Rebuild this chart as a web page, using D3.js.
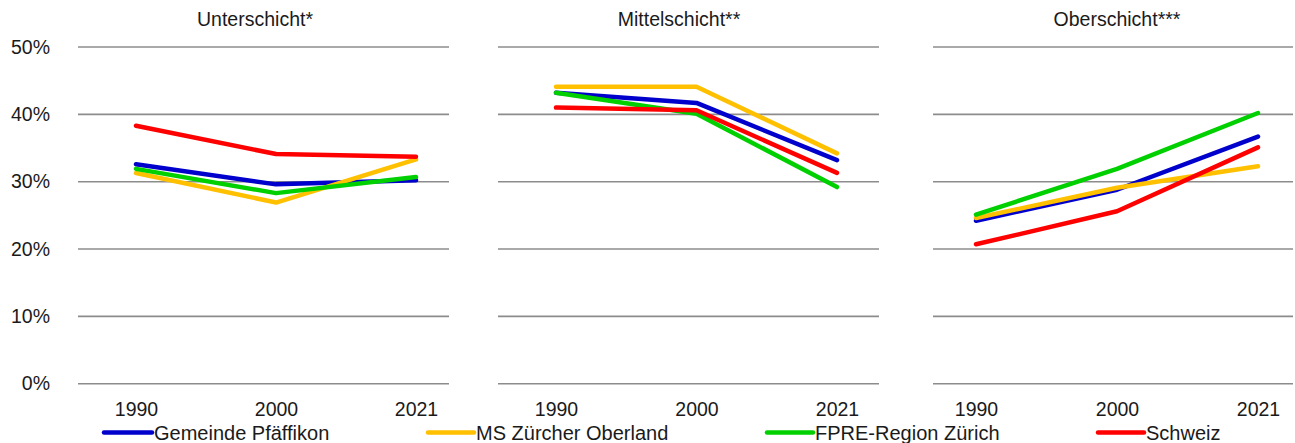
<!DOCTYPE html>
<html>
<head>
<meta charset="utf-8">
<script src="https://cdn.jsdelivr.net/npm/d3@7"></script>
<style>
  html, body { margin: 0; padding: 0; background: #fff; }
  svg { display: block; font-family: "Liberation Sans", Arial, sans-serif; }
</style>
</head>
<body>
<svg id="chart" width="1295" height="443"></svg>
<script>
// Categories and labels
const years = ["1990", "2000", "2021"];
const panelTitles = ["Unterschicht*", "Mittelschicht**", "Oberschicht***"];
const seriesNames = ["Gemeinde Pfäffikon", "MS Zürcher Oberland", "FPRE-Region Zürich", "Schweiz"];
const seriesColors = ["#0000CC", "#FFC000", "#00D000", "#FF0000"];
const yTicks = [0, 10, 20, 30, 40, 50];

// Shares in percent, one array per series, ordered panel by panel (1990, 2000, 2021)
const pfaeffikon   = [[32.6, 29.6, 30.2], [43.2, 41.7, 33.2], [24.2, 28.8, 36.7]];
const zuercherOberland = [[31.3, 26.9, 33.3], [44.1, 44.1, 34.2], [24.6, 29.1, 32.3]];
const regionZuerich = [[31.9, 28.3, 30.7], [43.2, 40.1, 29.2], [25.1, 31.9, 40.2]];
const schweiz      = [[38.3, 34.1, 33.7], [41.0, 40.6, 31.3], [20.7, 25.6, 35.1]];
const seriesValues = [pfaeffikon, zuercherOberland, regionZuerich, schweiz];

// Panel geometry
const panels = [
  { g0: 78,  g1: 449,  p0: 136, p1: 416,  titleX: 255 },
  { g0: 498, g1: 879,  p0: 556, p1: 837,  titleX: 679 },
  { g0: 933, g1: 1293, p0: 976, p1: 1258, titleX: 1117 }
];
const legendItems = [
  { x0: 104, x1: 152 },
  { x0: 428, x1: 474 },
  { x0: 767, x1: 813 },
  { x0: 1098, x1: 1144 }
];

const FONT = "Liberation Sans, Arial, sans-serif";
const svg = d3.select("#chart");
const y = d3.scaleLinear().domain([0, 50]).range([383.7, 47]);

// y-axis labels (shared, left of first panel)
svg.append("g")
  .attr("transform", "translate(50,0)")
  .call(d3.axisLeft(y).tickValues(yTicks).tickFormat(d => d + "%").tickSize(0).tickPadding(0))
  .call(g => g.select(".domain").remove())
  .call(g => g.selectAll("text")
    .attr("font-size", 19.5).attr("fill", "#1a1a1a")
    .attr("font-family", FONT));

panels.forEach((p, pi) => {
  const x = d3.scalePoint().domain(years).range([p.p0, p.p1]);
  const g = svg.append("g");

  // gridlines
  g.selectAll("line.grid").data(yTicks).join("line")
    .attr("class", "grid")
    .attr("x1", p.g0).attr("x2", p.g1)
    .attr("y1", d => y(d)).attr("y2", d => y(d))
    .attr("stroke", "#8c8c8c").attr("stroke-width", 1.6);

  // category axis labels
  g.append("g")
    .attr("transform", "translate(0,399)")
    .call(d3.axisBottom(x).tickSize(0).tickPadding(0))
    .call(a => a.select(".domain").remove())
    .call(a => a.selectAll("text")
      .attr("font-size", 19.5).attr("fill", "#1a1a1a").attr("dy", "0.85em")
      .attr("font-family", FONT));

  // panel title
  g.append("text")
    .attr("x", p.titleX).attr("y", 26)
    .attr("text-anchor", "middle")
    .attr("font-size", 19.5).attr("fill", "#1a1a1a")
    .text(panelTitles[pi]);

  // series lines
  const line = d3.line().x((d, i) => x(years[i])).y(d => y(d));
  seriesValues.forEach((vals, si) => {
    g.append("path")
      .datum(vals[pi])
      .attr("d", line)
      .attr("fill", "none")
      .attr("stroke", seriesColors[si])
      .attr("stroke-width", 4.5)
      .attr("stroke-linecap", "round")
      .attr("stroke-linejoin", "round");
  });
});

// legend
const legend = svg.append("g");
legendItems.forEach((it, i) => {
  legend.append("line")
    .attr("x1", it.x0).attr("x2", it.x1)
    .attr("y1", 432.5).attr("y2", 432.5)
    .attr("stroke", seriesColors[i]).attr("stroke-width", 4.5)
    .attr("stroke-linecap", "round");
  legend.append("text")
    .attr("x", it.x1 + 2).attr("y", 439.5)
    .attr("font-size", 20).attr("fill", "#1a1a1a")
    .text(seriesNames[i]);
});
</script>
</body>
</html>
